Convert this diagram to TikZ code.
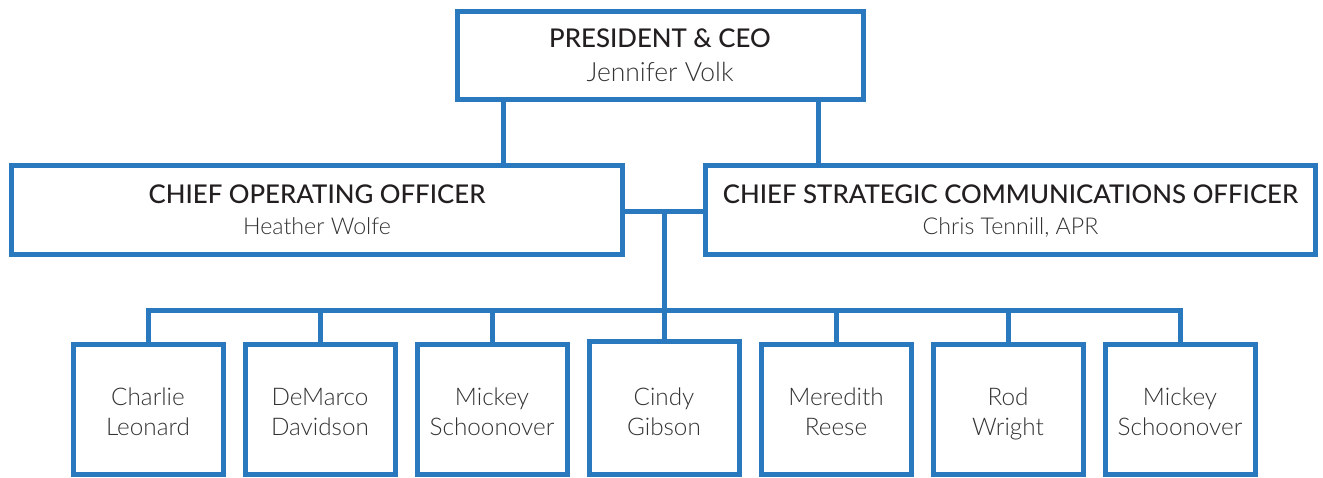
\documentclass[tikz,border=0pt]{standalone}
\usepackage{fontspec}
\setmainfont{Lato}
\newfontfamily\titlefont{Lato Medium}
\newfontfamily\namefont{Lato Light}
\definecolor{orgblue}{HTML}{2A78BD}
\definecolor{titlegray}{HTML}{231F20}
\definecolor{namegray}{HTML}{333333}
\begin{document}
\begin{tikzpicture}[x=1pt,y=-1pt,
  orgbox/.style={draw=orgblue, line width=5pt, fill=white, inner sep=0pt, outer sep=0pt, anchor=north west},
  link/.style={draw=orgblue, line width=5pt},
  ttl/.style={font=\titlefont\fontsize{25.8}{34}\selectfont, text=titlegray},
  nm/.style={font=\namefont\fontsize{24.3}{29}\selectfont, text=namegray}]
\useasboundingbox (0,0) rectangle (1323,478);
% top box
\node[orgbox, minimum width=405.5pt, minimum height=88pt] (ceo) at (457.5,11.5) {};
\node[ttl, anchor=base] (ceot) at (660,48) {PRESIDENT \& CEO};
\node[nm, anchor=base, font=\namefont\fontsize{26.5}{30}\selectfont] (ceon) at (660,82) {Jennifer Volk};
% middle boxes
\node[orgbox, minimum width=611pt, minimum height=89pt] (coo) at (11.5,165.5) {};
\node[ttl, anchor=base] (coot) at (317,204) {CHIEF OPERATING OFFICER};
\node[nm, anchor=base, font=\namefont\fontsize{23.2}{29}\selectfont] (coon) at (317,235) {Heather Wolfe};
\node[orgbox, minimum width=610pt, minimum height=89pt] (csco) at (705.5,165.5) {};
\node[ttl, anchor=base] (cscot) at (1010.5,204) {CHIEF STRATEGIC COMMUNICATIONS OFFICER};
\node[nm, anchor=base, font=\namefont\fontsize{23.2}{29}\selectfont] (cscon) at (1010.5,235) {Chris Tennill, APR};
% connectors top
\coordinate (l1) at (503,0);
\coordinate (r1) at (818,0);
\draw[link] (ceo.south -| l1) -- (coo.north -| l1);
\draw[link] (ceo.south -| r1) -- (csco.north -| r1);
\draw[link] (coo.east |- 0,212) -- (csco.west |- 0,212);
% bottom boxes
\foreach \i/\cx/\a/\b in {1/148/Charlie/Leonard, 2/320/DeMarco/Davidson, 3/492/Mickey/Schoonover, 5/836/Meredith/Reese, 6/1008/Rod/Wright, 7/1180/Mickey/Schoonover}{
  \node[orgbox, minimum width=150pt, minimum height=130pt] (b\i) at (\cx-75,344.5) {};
  \node[nm, anchor=base] (b\i a) at (\cx,406) {\a};
  \node[nm, anchor=base] (b\i b) at (\cx,435) {\b};
}
\node[orgbox, minimum width=150pt, minimum height=133pt] (b4) at (589,341.5) {};
\node[nm, anchor=base] (b4a) at (664,406) {Cindy};
\node[nm, anchor=base] (b4b) at (664,435) {Gibson};
% bus
\coordinate (bus) at (0,311);
\coordinate (hub) at (664,212);
\draw[link] (hub) -- (b4.north);
\draw[link] ([xshift=-2.5pt]b1.north |- bus) -- ([xshift=2.5pt]b7.north |- bus);
\foreach \i in {1,2,3,5,6,7}{
  \draw[link] (b\i.north |- bus) -- (b\i.north);
}
\end{tikzpicture}
\end{document}
